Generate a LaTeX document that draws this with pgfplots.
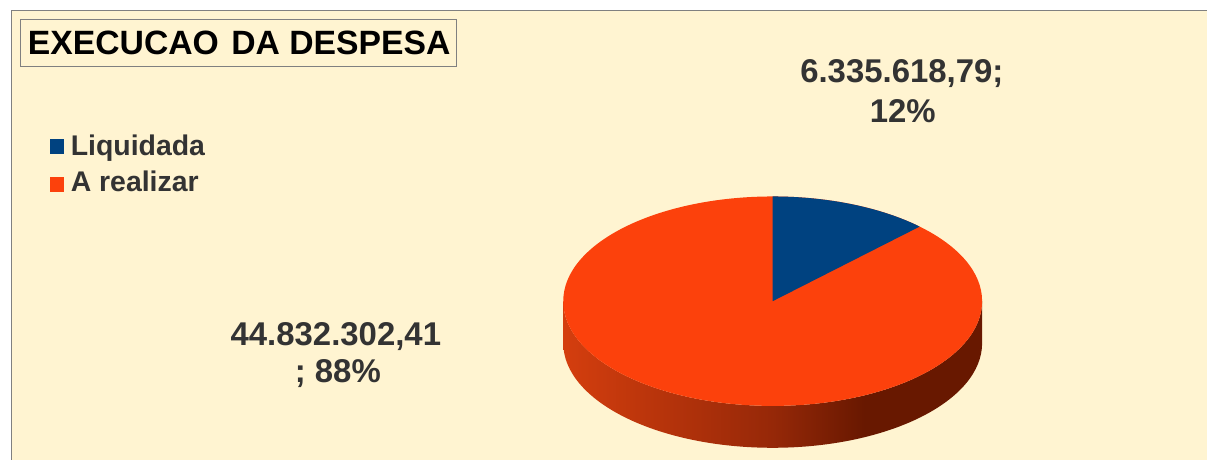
\documentclass[border=0pt]{standalone}
\usepackage{fontspec}
\setmainfont{Liberation Sans}
\usepackage{pgfplots}
\usepackage{pgfplotstable}
\pgfplotsset{compat=1.18}

\definecolor{bgcream}{RGB}{255,244,209}
\definecolor{liqblue}{RGB}{0,66,128}
\definecolor{realorange}{RGB}{252,65,12}
\definecolor{sideL}{RGB}{212,62,14}
\definecolor{sideM}{RGB}{150,40,8}
\definecolor{sideR}{RGB}{104,24,0}
\definecolor{txtgray}{RGB}{51,51,51}
\definecolor{framegray}{RGB}{128,128,128}

% side of the pie: bright on the left, dark on the right
\pgfdeclarehorizontalshading{pieside}{100bp}{color(0bp)=(sideL); color(25bp)=(sideL);
  color(50bp)=(sideM); color(61bp)=(sideR); color(75bp)=(sideR); color(100bp)=(sideR)}

\pgfplotstableread{
label value pct
Liquidada 6335618.79 12
Arealizar 44832302.41 88
}\pietable

\begin{document}
\pgfplotstablegetelem{0}{value}\of\pietable \let\valA\pgfplotsretval
\pgfplotstablegetelem{1}{value}\of\pietable \let\valB\pgfplotsretval
\edef\angA{\fpeval{360*\valA/(\valA+\valB)}}
\begin{tikzpicture}
\begin{axis}[
    width=1207bp, height=461bp, scale only axis,
    xmin=0, xmax=1207, ymin=0, ymax=461,
    hide axis, clip=false,
]
% page and chart area
\fill[white] (axis cs:0,0) rectangle (axis cs:1207,461);
\fill[bgcream] (axis cs:8.3,0) rectangle (axis cs:1207,450);
\draw[framegray, line width=1bp] (axis cs:8.3,0) -- (axis cs:8.3,450) -- (axis cs:1207,450);

% title
\draw[framegray, line width=0.8bp] (axis cs:17.7,394.3) rectangle (axis cs:455,441.7);
\node[anchor=base west, inner sep=0pt, font=\fontsize{33.8bp}{40bp}\selectfont\bfseries]
  at (axis cs:25,406) {EXECUCAO\hspace{3bp} DA DESPESA};

% legend
\fill[liqblue] (axis cs:47.3,307) rectangle (axis cs:61.7,321.7);
\fill[realorange] (axis cs:47.3,268.7) rectangle (axis cs:61.7,283.3);
\node[anchor=base west, inner sep=0pt, text=txtgray, font=\fontsize{28.5bp}{34bp}\selectfont\bfseries]
  at (axis cs:68,305) {Liquidada};
\node[anchor=base west, inner sep=0pt, text=txtgray, font=\fontsize{28.5bp}{34bp}\selectfont\bfseries]
  at (axis cs:68,268.5) {A realizar};

% pie: side, top, first slice
\shade[shading=pieside] (axis cs:562,159)
  arc[start angle=180, end angle=360, x radius=210bp, y radius=105bp]
  -- (axis cs:982,117)
  arc[start angle=0, end angle=-180, x radius=210bp, y radius=105bp] -- cycle;
\fill[realorange] (axis cs:772,159) ellipse[x radius=210bp, y radius=105bp];
\fill[liqblue] (axis cs:772,159) -- (axis cs:772,264)
  arc[start angle=90, end angle={90-\angA}, x radius=210bp, y radius=105bp] -- cycle;

% data labels
\begin{scope}[every node/.style={anchor=base, inner sep=0pt, text=txtgray,
    font=\fontsize{33bp}{38bp}\selectfont\bfseries}]
\node at (axis cs:901.5,378.3) {6.335.618,79;};
\node at (axis cs:902.5,338.3) {12\%};
\node at (axis cs:334,114.3) {44.832.302,41};
\node at (axis cs:336,77.7) {; 88\%};
\end{scope}
\end{axis}
\end{tikzpicture}
\end{document}
